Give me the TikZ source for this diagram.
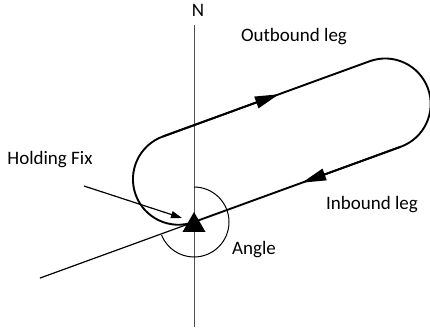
\documentclass[tikz,border=0pt]{standalone}
\usepackage{fontspec}
\setmainfont{Carlito}
\usetikzlibrary{arrows.meta,shapes.geometric}
\definecolor{TrackBlack}{HTML}{000000}
\definecolor{AxisGrey}{HTML}{505050}

\begin{document}
\begin{tikzpicture}[x=1pt,y=1pt,
    every node/.style={font=\fontsize{19}{22}\selectfont, inner sep=0pt},
    legline/.style={TrackBlack, line width=1.9pt},
    thinline/.style={TrackBlack, line width=1.2pt},
    legarrow/.style={-{Triangle[length=24pt,width=12pt]}},
    fixmark/.style={regular polygon, regular polygon sides=3,
      minimum size=26.6pt, fill=TrackBlack, draw=none}]
  \useasboundingbox (0,0) rectangle (430,-332);

  \node (north) at (198,-10) {N};
  \coordinate (ntop) at (194,-25);
  \coordinate (nbot) at (194,-327);
  \draw[AxisGrey, line width=1pt] (ntop) -- (nbot);

  \coordinate (fix) at (194,-222);
  \begin{scope}[shift={(fix)}, rotate=20]
    \coordinate (tl) at (0,91);
    \coordinate (tr) at (220,91);
    \coordinate (br) at (220,0);
    \coordinate (outtip) at (123.5,91);
    \coordinate (intip) at (115,0);
    \coordinate (entry) at (-164,0);
    \draw[legline] (fix) arc[start angle=-90, end angle=-270, radius=45.5]
      -- (tr) arc[start angle=90, end angle=-90, radius=45.5] -- (fix);
    \draw[legline, legarrow] (tl) -- (outtip);
    \draw[legline, legarrow] (br) -- (intip);
  \end{scope}
  \draw[thinline] (entry) -- (fix);

  \coordinate (anglestart) at (194,-187);
  \draw[TrackBlack, line width=1pt] (anglestart)
    arc[start angle=90, end angle=-158, radius=35];

  \node (hfixlabel) at (50,-160) {Holding Fix};
  \coordinate (hfixtail) at (84,-186);
  \coordinate (hfixtip) at (182,-218);
  \draw[thinline, -{Triangle[length=11pt,width=7pt]}] (hfixtail) -- (hfixtip);

  \node[fixmark] (fixmark) at (194,-225.3) {};

  \node (outlabel) at (294,-37) {Outbound leg};
  \node (inlabel) at (372,-205) {Inbound leg};
  \node (anglelabel) at (254,-250) {Angle};
\end{tikzpicture}
\end{document}
